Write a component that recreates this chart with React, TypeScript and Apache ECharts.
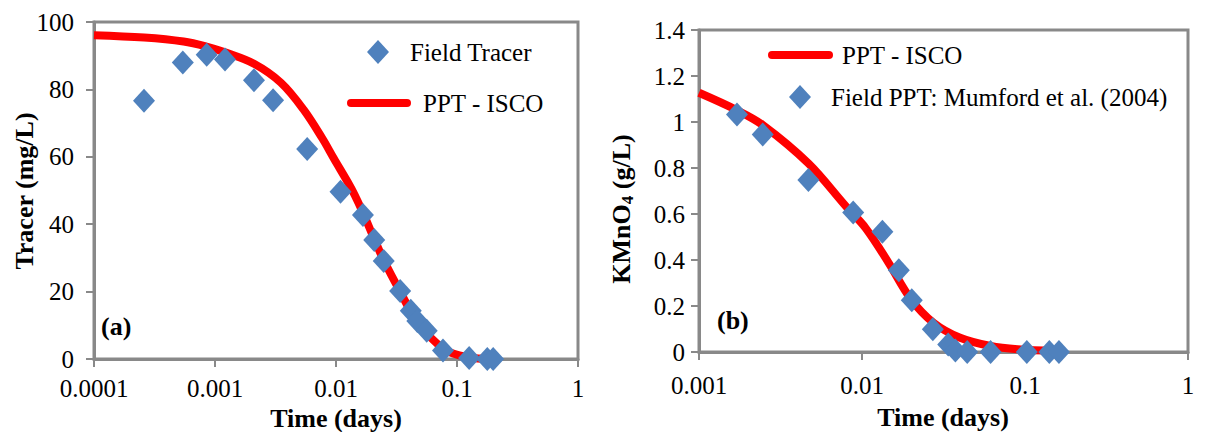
import React, { useEffect, useRef } from "react";
import * as echarts from "echarts";

// (a) tracer breakthrough: field data and PPT-ISCO model
const tracerTimes = [0.000259, 0.000542, 0.000854, 0.00121, 0.0021, 0.00302, 0.00578, 0.0109, 0.0167, 0.0207, 0.0248, 0.0339, 0.0415, 0.047, 0.0562, 0.0766, 0.126, 0.178, 0.199];
const tracerConc = [76.6, 88.0, 90.3, 88.9, 82.7, 76.8, 62.3, 49.6, 42.7, 35.3, 29.1, 20.2, 14.3, 11.3, 8.4, 2.5, 0.3, 0, 0];
const tracerModelTimes = [0.0001, 0.00026, 0.00055, 0.00085, 0.00121, 0.0021, 0.0035, 0.0054, 0.0077, 0.0096, 0.0125, 0.0143, 0.0167, 0.0207, 0.0248, 0.0339, 0.047, 0.0776, 0.12, 0.2];
const tracerModelConc = [96.1, 95.4, 94.2, 92.7, 91.0, 87.6, 82.0, 74.0, 65.5, 59.5, 52.5, 48.6, 43.4, 35.6, 29.3, 20.0, 11.0, 3.0, 0.6, 0.0];

// (b) permanganate: field PPT data (Mumford et al. 2004) and PPT-ISCO model
const kmnoTimes = [0.00171, 0.00246, 0.00469, 0.00883, 0.01334, 0.01682, 0.0202, 0.0272, 0.0338, 0.0374, 0.0442, 0.0615, 0.1026, 0.141, 0.1615];
const kmnoConc = [1.033, 0.946, 0.748, 0.607, 0.523, 0.355, 0.225, 0.099, 0.033, 0.007, 0, 0, 0, 0, 0];
const kmnoModelTimes = [0.001, 0.0017, 0.00246, 0.00469, 0.008, 0.0105, 0.0145, 0.02, 0.0275, 0.04, 0.0615, 0.09, 0.155];
const kmnoModelConc = [1.127, 1.052, 0.987, 0.82, 0.632, 0.54, 0.39, 0.229, 0.127, 0.062, 0.026, 0.012, 0.005];

// tick labels
const xTicksA = ["0.0001", "0.001", "0.01", "0.1", "1"];
const xTicksB = ["0.001", "0.01", "0.1", "1"];

const FONT = "Liberation Serif, Times New Roman, serif";
const GRAY = "#898989";
const RED = "#FF0000";
const BLUE = "#4F81BD";

const zip = (xs: number[], ys: number[]) => xs.map((x, i) => [x, ys[i]]);

function logAxes(gridIndex: number, min: number, labels: string[], minExp: number, margin: number) {
  const base = {
    gridIndex,
    type: "log" as const,
    logBase: 10,
    min,
    max: 1,
    splitLine: { show: false },
    minorTick: { show: false },
  };
  return [
    {
      ...base,
      axisLine: { show: true, onZero: false, lineStyle: { color: GRAY, width: 3 } },
      axisTick: { show: true, length: 8, lineStyle: { color: GRAY, width: 2 } },
      axisLabel: {
        show: true,
        margin,
        fontSize: 25,
        color: "#000",
        fontFamily: FONT,
        showMinLabel: true,
        showMaxLabel: true,
        formatter: (v: number) => labels[Math.round(Math.log10(v)) - minExp] ?? "",
      },
    },
    {
      // inner half of the crossing tick marks
      ...base,
      axisLine: { show: false },
      axisTick: { show: true, inside: true, length: 7, lineStyle: { color: GRAY, width: 2 } },
      axisLabel: { show: false },
    },
  ];
}

function valueAxis(gridIndex: number, max: number, interval: number, margin: number) {
  return {
    gridIndex,
    type: "value" as const,
    min: 0,
    max,
    interval,
    splitLine: { show: false },
    axisLine: { show: true, onZero: false, lineStyle: { color: GRAY, width: 3 } },
    axisTick: { show: true, length: 8, lineStyle: { color: GRAY, width: 2 } },
    axisLabel: { margin, fontSize: 25, color: "#000", fontFamily: FONT },
  };
}

function legendText(x: number, y: number, text: string) {
  return {
    type: "text",
    x,
    y,
    style: {
      text,
      fill: "#000",
      fontSize: 25,
      fontFamily: FONT,
      align: "left",
      verticalAlign: "middle",
      textAlign: "left",
      textVerticalAlign: "middle",
    },
  };
}

function legendDiamond(cx: number, cy: number) {
  return {
    type: "polygon",
    shape: { points: [[cx, cy - 12], [cx + 11, cy], [cx, cy + 12], [cx - 11, cy]] },
    style: { fill: BLUE },
  };
}

function legendLine(x1: number, x2: number, y: number) {
  return {
    type: "line",
    shape: { x1, y1: y, x2, y2: y },
    style: { stroke: RED, lineWidth: 8, lineCap: "round" },
  };
}

function boldText(x: number, y: number, text: string, rotation = 0, align = "left") {
  return {
    type: "text",
    x,
    y,
    rotation,
    style: {
      text,
      fill: "#000",
      fontSize: 26,
      fontWeight: "bold",
      fontFamily: FONT,
      align,
      verticalAlign: "middle",
      textAlign: align,
      textVerticalAlign: "middle",
    },
  };
}

export default function App() {
  const ref = useRef<HTMLDivElement>(null);

  useEffect(() => {
    if (!ref.current) return;
    const chart = echarts.init(ref.current, undefined, { renderer: "svg" });

    const option: any = {
      animation: false,
      backgroundColor: "#fff",
      textStyle: { fontFamily: FONT },
      grid: [
        { left: 94, top: 22, width: 484, height: 337, show: true, borderColor: GRAY, borderWidth: 3, outerBoundsMode: "none", containLabel: false },
        { left: 699, top: 30, width: 489, height: 322, show: true, borderColor: GRAY, borderWidth: 3, outerBoundsMode: "none", containLabel: false },
      ],
      xAxis: [...logAxes(0, 0.0001, xTicksA, -4, 17), ...logAxes(1, 0.001, xTicksB, -3, 21)],
      yAxis: [valueAxis(0, 100, 20, 20), valueAxis(1, 1.4, 0.2, 14)],
      series: [
        {
          name: "PPT - ISCO",
          type: "line",
          xAxisIndex: 0,
          yAxisIndex: 0,
          data: zip(tracerModelTimes, tracerModelConc),
          smooth: 0.35,
          showSymbol: false,
          clip: false,
          lineStyle: { color: RED, width: 8 },
          z: 2,
        },
        {
          name: "Field Tracer",
          type: "scatter",
          xAxisIndex: 0,
          yAxisIndex: 0,
          data: zip(tracerTimes, tracerConc),
          symbol: "diamond",
          symbolSize: [22, 24],
          clip: false,
          itemStyle: { color: BLUE, opacity: 1 },
          z: 3,
        },
        {
          name: "PPT - ISCO",
          type: "line",
          xAxisIndex: 2,
          yAxisIndex: 1,
          data: zip(kmnoModelTimes, kmnoModelConc),
          smooth: 0.35,
          showSymbol: false,
          clip: false,
          lineStyle: { color: RED, width: 8 },
          z: 2,
        },
        {
          name: "Field PPT: Mumford et al. (2004)",
          type: "scatter",
          xAxisIndex: 2,
          yAxisIndex: 1,
          data: zip(kmnoTimes, kmnoConc),
          symbol: "diamond",
          symbolSize: [22, 24],
          clip: false,
          itemStyle: { color: BLUE, opacity: 1 },
          z: 3,
        },
      ],
      graphic: [
        // legend (a)
        legendDiamond(378, 52),
        legendText(410, 52, "Field Tracer"),
        legendLine(351, 407, 103),
        legendText(423, 103, "PPT - ISCO"),
        // legend (b)
        legendLine(772, 829, 55),
        legendText(842, 55, "PPT - ISCO"),
        legendDiamond(800, 97),
        legendText(831, 97, "Field PPT: Mumford et al. (2004)"),
        // panel tags
        boldText(101, 326, "(a)"),
        boldText(717, 320, "(b)"),
        // x-axis titles
        boldText(336, 418, "Time (days)", 0, "center"),
        boldText(943, 417, "Time (days)", 0, "center"),
        // y-axis titles
        boldText(24, 191, "Tracer (mg/L)", Math.PI / 2, "center"),
        {
          type: "text",
          x: 621,
          y: 209,
          rotation: Math.PI / 2,
          style: {
            text: "{m|KMnO}{s|4}{m| (g/L)}",
            fill: "#000",
            align: "center",
            verticalAlign: "middle",
            textAlign: "center",
            textVerticalAlign: "middle",
            rich: {
              m: { fontSize: 26, fontWeight: "bold", fontFamily: FONT, lineHeight: 30, fill: "#000" },
              s: { fontSize: 17, fontWeight: "bold", fontFamily: FONT, lineHeight: 18, verticalAlign: "bottom", fill: "#000" },
            },
          },
        },
      ],
    };

    chart.setOption(option);
    return () => chart.dispose();
  }, []);

  return (
    <div
      ref={ref}
      style={{ position: "absolute", left: 0, top: 0, width: 1211, height: 432 }}
    />
  );
}
